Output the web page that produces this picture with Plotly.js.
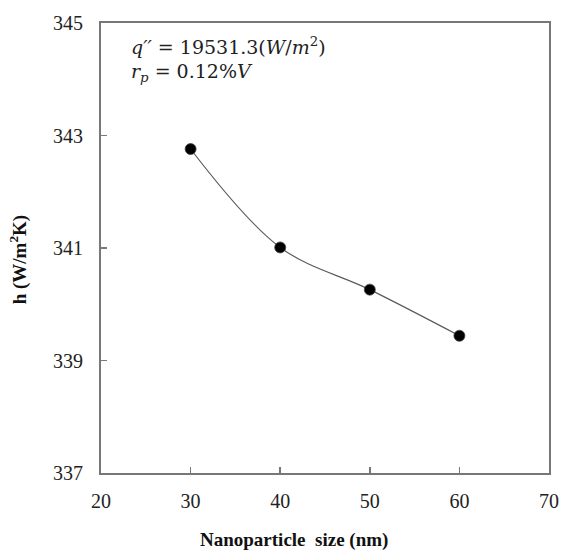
<!DOCTYPE html>
<html>
<head>
<meta charset="utf-8">
<script src="https://cdn.plot.ly/plotly-3.0.1.min.js"></script>
<style>html,body{margin:0;padding:0;background:#fff;}#chart{width:562px;height:551px;}</style>
</head>
<body>
<div id="chart"></div>
<script>
const sizes = [30, 40, 50, 60];
const hValues = [342.76, 341.01, 340.26, 339.44];
const xTicks = [20, 30, 40, 50, 60, 70];
const yTicks = [337, 339, 341, 343, 345];
const xTitle = "Nanoparticle  size (nm)";
const yTitle = "h (W/m<sup>2</sup>K)";
const noteLines = ["<i>q′′</i> = 19531.3(<i>W</i>/<i>m</i><sup>2</sup>)", "<i>r<sub>p</sub></i> = 0.12%<i>V</i>"];

const trace = {
  x: sizes, y: hValues, type: 'scatter', mode: 'lines+markers',
  line: {shape: 'spline', smoothing: 1, color: '#5a5a5a', width: 1.2},
  marker: {color: '#000', size: 11, line: {color: '#444', width: 0.8}},
  hoverinfo: 'none'
};
const serif = "'Liberation Serif'";
const layout = {
  width: 562, height: 551,
  margin: {l: 101, r: 13, t: 23, b: 78},
  paper_bgcolor: '#fff', plot_bgcolor: '#fff',
  showlegend: false,
  font: {family: serif, size: 20, color: '#222'},
  xaxis: {
    range: [20, 70], tickvals: xTicks, ticktext: xTicks.map(String),
    ticks: 'inside', ticklen: 6, tickcolor: '#777', tickwidth: 1.5,
    showline: true, linecolor: '#777', linewidth: 2, mirror: true,
    showgrid: false, zeroline: false,
    tickfont: {family: serif, size: 20, color: '#222'},
    ticklabelstandoff: 9
  },
  yaxis: {
    range: [337, 345], tickvals: yTicks, ticktext: yTicks.map(String),
    ticks: 'inside', ticklen: 6, tickcolor: '#777', tickwidth: 1.5,
    showline: true, linecolor: '#777', linewidth: 2, mirror: true,
    showgrid: false, zeroline: false,
    tickfont: {family: serif, size: 20, color: '#222'},
    ticklabelstandoff: 12
  },
  annotations: [
    {text: xTitle, xref: 'paper', yref: 'paper', x: 0.43, y: -0.149, xanchor: 'center', yanchor: 'middle',
     showarrow: false, font: {family: serif, size: 19, color: '#111', weight: 'bold'}},
    {text: yTitle, xref: 'paper', yref: 'paper', x: -0.185, y: 0.475, xanchor: 'center', yanchor: 'middle',
     textangle: -90, showarrow: false, font: {family: serif, size: 19, color: '#111', weight: 'bold'}},
    {text: noteLines[0], xref: 'paper', yref: 'paper', x: 0.063, y: 0.95, xanchor: 'left', yanchor: 'middle',
     showarrow: false, font: {family: "'DejaVu Serif'", size: 19, color: '#222'}},
    {text: noteLines[1], xref: 'paper', yref: 'paper', x: 0.063, y: 0.89, xanchor: 'left', yanchor: 'middle',
     showarrow: false, font: {family: "'DejaVu Serif'", size: 19, color: '#222'}}
  ]
};
Plotly.newPlot('chart', [trace], layout, {displayModeBar: false, staticPlot: true});
</script>
</body>
</html>
